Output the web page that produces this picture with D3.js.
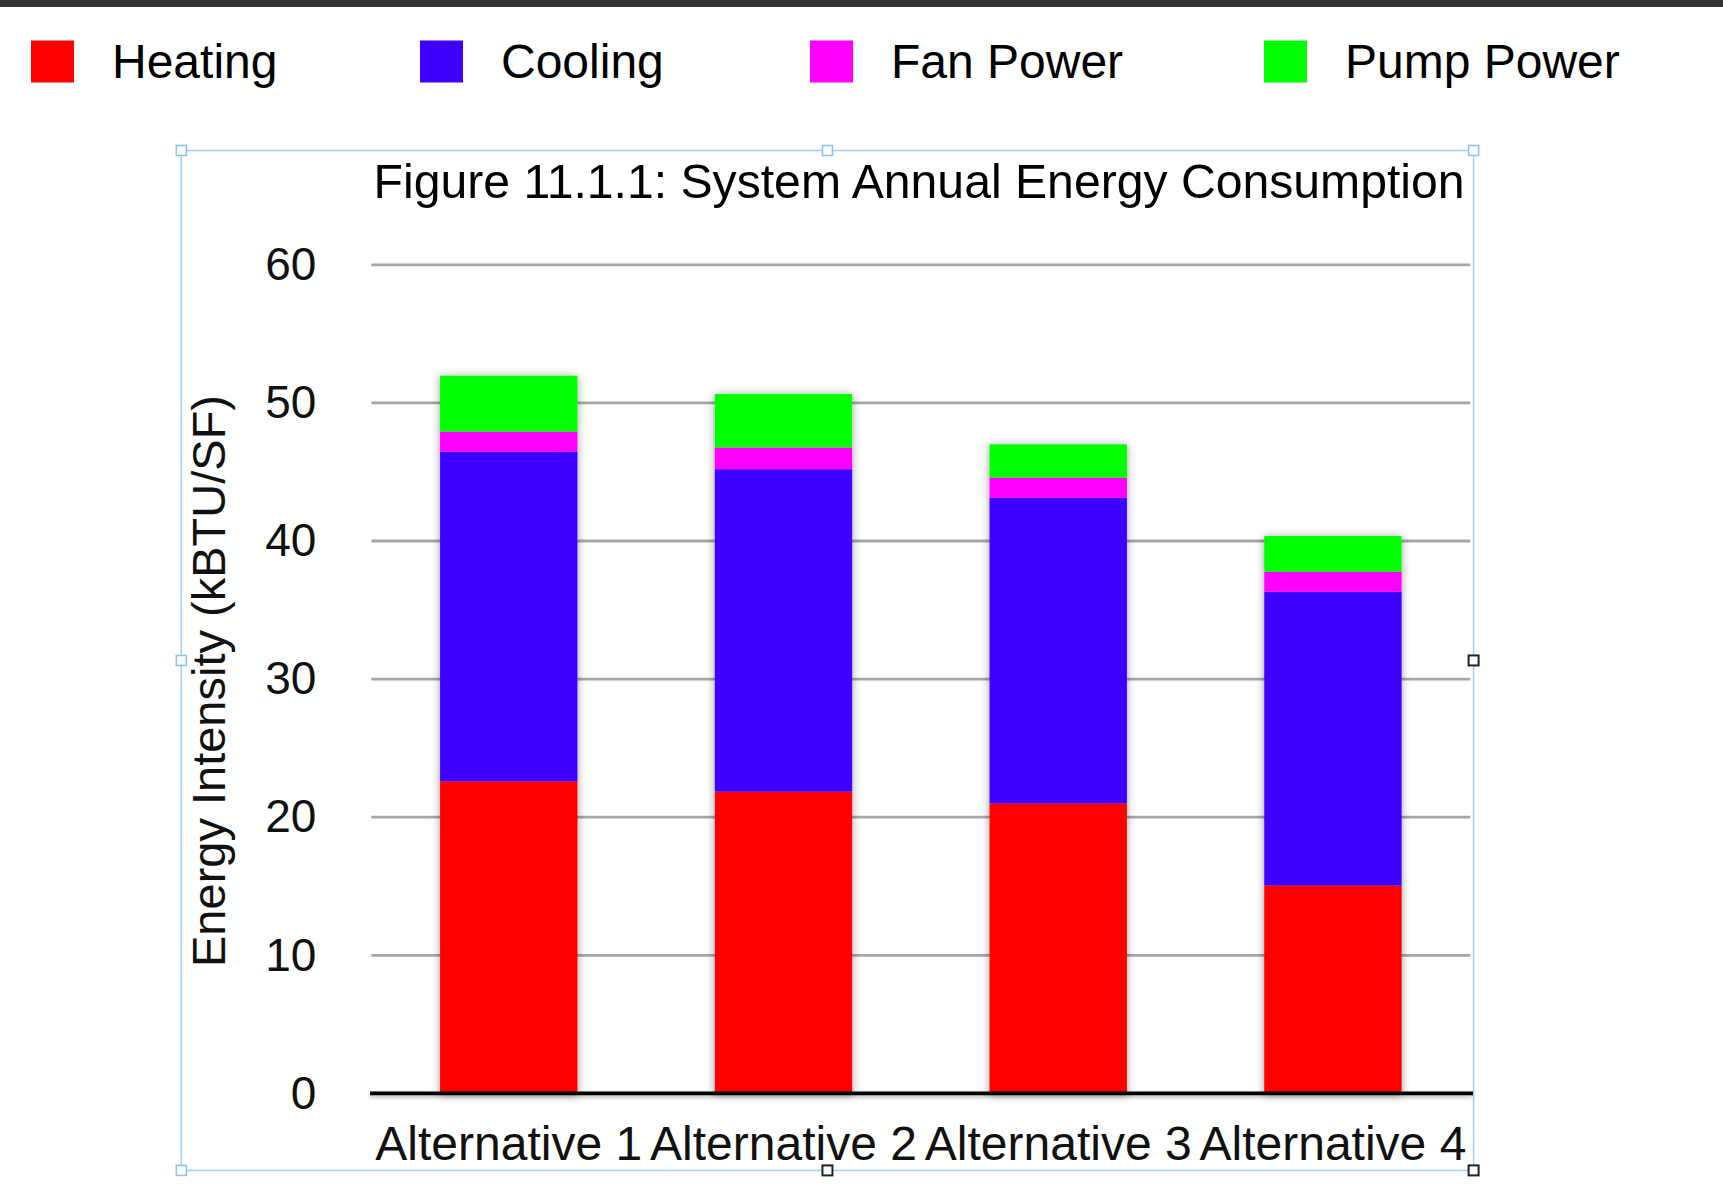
<!DOCTYPE html>
<html>
<head>
<meta charset="utf-8">
<script src="https://cdn.jsdelivr.net/npm/d3@7/dist/d3.min.js"></script>
<style>
  html, body { margin: 0; padding: 0; background: #fff; }
  svg { display: block; font-family: "Liberation Sans", Arial, Helvetica, sans-serif; }
</style>
</head>
<body>
<svg id="chart" width="1723" height="1202"></svg>
<script>
// ---- data ----
const categories = ["Alternative 1", "Alternative 2", "Alternative 3", "Alternative 4"];
const seriesNames = ["Heating", "Cooling", "Fan Power", "Pump Power"];
const heating   = [22.6, 21.85, 21.0, 15.05];
const cooling   = [23.87, 23.35, 22.14, 21.28];
const fanPower  = [1.45, 1.57, 1.45, 1.45];
const pumpPower = [4.05, 3.88, 2.41, 2.58];
const yTicks = [0, 10, 20, 30, 40, 50, 60];
const titleText = "Figure 11.1.1: System Annual Energy Consumption";
const yAxisTitle = "Energy Intensity (kBTU/SF)";

// ---- styles / layout ----
const colors = ["#ff0000", "#3f00ff", "#ff00ff", "#00ff00"];
const W = 1723, H = 1202;
const plot = { left: 371.4, right: 1470.3, top: 264.8, bottom: 1093.4 };
const legendX = [31, 420, 810, 1264];

const svg = d3.select("#chart");

// background + top dark strip
svg.append("rect").attr("x", 0).attr("y", 0).attr("width", W).attr("height", H).attr("fill", "#fff");
svg.append("rect").attr("x", 0).attr("y", 0).attr("width", W).attr("height", 7).attr("fill", "#333");

// filters
const defs = svg.append("defs");
const f = defs.append("filter").attr("id", "shadow")
  .attr("filterUnits", "userSpaceOnUse")
  .attr("x", 0).attr("y", 0).attr("width", W).attr("height", H);
f.append("feDropShadow").attr("dx", 0).attr("dy", 1).attr("stdDeviation", 4)
  .attr("flood-color", "#000").attr("flood-opacity", 0.4);
const f2 = defs.append("filter").attr("id", "lineShadow")
  .attr("filterUnits", "userSpaceOnUse")
  .attr("x", 0).attr("y", 0).attr("width", W).attr("height", H);
f2.append("feDropShadow").attr("dx", 0).attr("dy", 2).attr("stdDeviation", 2)
  .attr("flood-color", "#000").attr("flood-opacity", 0.3);

// table built from arrays
const table = categories.map((c, i) => ({
  category: c,
  "Heating": heating[i],
  "Cooling": cooling[i],
  "Fan Power": fanPower[i],
  "Pump Power": pumpPower[i]
}));
const stacked = d3.stack().keys(seriesNames)(table);

// scales
const x = d3.scaleBand().domain(categories).range([plot.left, plot.right])
  .paddingInner(0.5).paddingOuter(0.25);
const y = d3.scaleLinear().domain([0, 60]).range([plot.bottom, plot.top]);
const color = d3.scaleOrdinal().domain(seriesNames).range(colors);

// legend
const legend = svg.append("g");
seriesNames.forEach((name, i) => {
  const g = legend.append("g").attr("transform", `translate(${legendX[i]},0)`);
  g.append("rect").attr("x", 0).attr("y", 40.5).attr("width", 43).attr("height", 42)
    .attr("fill", color(name));
  g.append("text").attr("x", 81).attr("y", 78).attr("font-size", 48).attr("fill", "#000")
    .text(name);
});

// selection frame
const frame = { x: 181.3, y: 150.5, w: 1292.3, h: 1019.9 };
svg.append("rect").attr("x", frame.x).attr("y", frame.y).attr("width", frame.w).attr("height", frame.h)
  .attr("fill", "none").attr("stroke", "#a6d2f5").attr("stroke-width", 1.6);

// title
svg.append("text").attr("x", 373.6).attr("y", 198).attr("font-size", 48).attr("fill", "#000")
  .attr("textLength", 1091).attr("lengthAdjust", "spacingAndGlyphs")
  .text(titleText);

// gridlines
svg.append("g").selectAll("line").data(yTicks.filter(d => d > 0)).join("line")
  .attr("x1", plot.left).attr("x2", plot.right)
  .attr("y1", d => y(d)).attr("y2", d => y(d))
  .attr("stroke", "#a6a6a6").attr("stroke-width", 2.8);

// y axis labels
const yAxis = svg.append("g").attr("transform", `translate(${plot.left},0)`)
  .call(d3.axisLeft(y).tickValues(yTicks).tickSize(0).tickPadding(55).tickFormat(d3.format("d")));
yAxis.select(".domain").remove();
yAxis.selectAll("text").attr("font-size", 46).attr("fill", "#111")
  .attr("font-family", "\"Liberation Sans\", Arial, Helvetica, sans-serif");

// y axis title
svg.append("text").attr("transform", "translate(225,681) rotate(-90)")
  .attr("text-anchor", "middle").attr("font-size", 47).attr("fill", "#111")
  .text(yAxisTitle);

// bars
const bars = svg.append("g").attr("filter", "url(#shadow)");
bars.selectAll("g").data(stacked).join("g")
  .attr("fill", d => color(d.key))
  .selectAll("rect").data(d => d).join("rect")
  .attr("x", d => x(d.data.category))
  .attr("width", x.bandwidth())
  .attr("y", d => y(d[1]))
  .attr("height", d => y(d[0]) - y(d[1]));

// baseline
svg.append("line").attr("x1", 370).attr("x2", 1473).attr("y1", y(0)).attr("y2", y(0))
  .attr("stroke", "#000").attr("stroke-width", 3.6).attr("filter", "url(#lineShadow)");

// x axis labels
const xAxis = svg.append("g").attr("transform", `translate(0,${y(0)})`)
  .call(d3.axisBottom(x).tickSize(0).tickPadding(33));
xAxis.select(".domain").remove();
xAxis.selectAll("text").attr("font-size", 48).attr("fill", "#111")
  .attr("font-family", "\"Liberation Sans\", Arial, Helvetica, sans-serif");

// selection handles
const hx = [frame.x, frame.x + frame.w / 2, frame.x + frame.w];
const hy = [frame.y, frame.y + frame.h / 2, frame.y + frame.h];
const handles = [
  [hx[0], hy[0], "blue"], [hx[1], hy[0], "blue"], [hx[2], hy[0], "blue"],
  [hx[0], hy[1], "blue"], [hx[2], hy[1], "black"],
  [hx[0], hy[2], "blue"], [hx[1], hy[2], "black"], [hx[2], hy[2], "black"]
];
svg.append("g").selectAll("rect").data(handles).join("rect")
  .attr("x", d => d[0] - 5).attr("y", d => d[1] - 5)
  .attr("width", 10).attr("height", 10)
  .attr("fill", "#fff")
  .attr("stroke", d => d[2] === "blue" ? "#8cc4f0" : "#222")
  .attr("stroke-width", d => d[2] === "blue" ? 1.6 : 2);
</script>
</body>
</html>
